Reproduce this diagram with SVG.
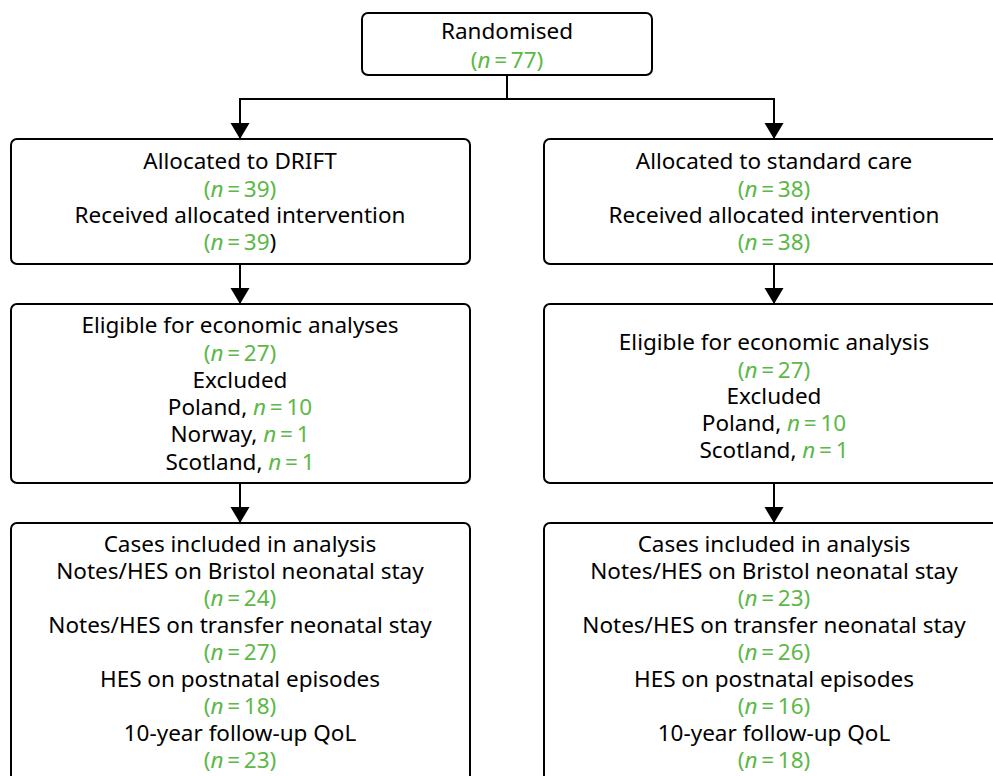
<svg xmlns="http://www.w3.org/2000/svg" width="993" height="776" viewBox="0 0 993 776">
<style>
.box{fill:#fff;stroke:#000;stroke-width:2}
.t{font-family:"Noto Sans","Open Sans","Liberation Sans",sans-serif;font-size:22.5px;fill:#000;text-anchor:middle}
.g{fill:#5cb847}
.i{font-style:italic}
.c{fill:none;stroke:#000;stroke-width:2}
</style>
<defs>
<marker id="ah" markerUnits="userSpaceOnUse" markerWidth="18" markerHeight="20" refX="16" refY="10" orient="auto">
<path d="M0,0.5 L16,10 L0,19.5 Z" fill="#000"/>
</marker>
</defs>
<g id="connectors">
<path class="c" d="M507,75 V99"/>
<path class="c" d="M240,99 H774"/>
<path class="c" d="M240,98 V139" marker-end="url(#ah)"/>
<path class="c" d="M774,98 V139" marker-end="url(#ah)"/>
<path class="c" d="M240,264 V304" marker-end="url(#ah)"/>
<path class="c" d="M774,264 V304" marker-end="url(#ah)"/>
<path class="c" d="M240,483 V523" marker-end="url(#ah)"/>
<path class="c" d="M774,483 V523" marker-end="url(#ah)"/>
</g>
<g id="randomised">
<rect class="box" x="362" y="13" width="290" height="62" rx="6"/>
<text class="t" x="507" y="39">Randomised</text>
<text class="t g" x="507" y="68">(<tspan class="i">n</tspan>&#8201;=&#8201;77)</text>
</g>
<g id="drift">
<rect class="box" x="11" y="139" width="459" height="125" rx="6"/>
<text class="t" x="240" y="169">Allocated to DRIFT</text>
<text class="t g" x="240" y="197">(<tspan class="i">n</tspan>&#8201;=&#8201;39)</text>
<text class="t" x="240" y="223">Received allocated intervention</text>
<text class="t" x="240" y="250"><tspan class="g">(<tspan class="i">n</tspan>&#8201;=&#8201;39</tspan>)</text>
</g>
<g id="standard">
<rect class="box" x="544" y="139" width="470" height="125" rx="6"/>
<text class="t" x="774" y="169">Allocated to standard care</text>
<text class="t g" x="774" y="197">(<tspan class="i">n</tspan>&#8201;=&#8201;38)</text>
<text class="t" x="774" y="223">Received allocated intervention</text>
<text class="t g" x="774" y="250">(<tspan class="i">n</tspan>&#8201;=&#8201;38)</text>
</g>
<g id="eligible-drift">
<rect class="box" x="11" y="304" width="459" height="179" rx="6"/>
<text class="t" x="240" y="333">Eligible for economic analyses</text>
<text class="t g" x="240" y="361">(<tspan class="i">n</tspan>&#8201;=&#8201;27)</text>
<text class="t" x="240" y="388">Excluded</text>
<text class="t" x="240" y="415">Poland, <tspan class="g"><tspan class="i">n</tspan>&#8201;=&#8201;10</tspan></text>
<text class="t" x="240" y="442">Norway, <tspan class="g"><tspan class="i">n</tspan>&#8201;=&#8201;1</tspan></text>
<text class="t" x="240" y="470">Scotland, <tspan class="g"><tspan class="i">n</tspan>&#8201;=&#8201;1</tspan></text>
</g>
<g id="eligible-standard">
<rect class="box" x="544" y="304" width="470" height="179" rx="6"/>
<text class="t" x="774" y="350">Eligible for economic analysis</text>
<text class="t g" x="774" y="378">(<tspan class="i">n</tspan>&#8201;=&#8201;27)</text>
<text class="t" x="774" y="404">Excluded</text>
<text class="t" x="774" y="431">Poland, <tspan class="g"><tspan class="i">n</tspan>&#8201;=&#8201;10</tspan></text>
<text class="t" x="774" y="458">Scotland, <tspan class="g"><tspan class="i">n</tspan>&#8201;=&#8201;1</tspan></text>
</g>
<g id="cases-drift">
<rect class="box" x="11" y="523" width="459" height="270" rx="6"/>
<text class="t" x="240" y="552">Cases included in analysis</text>
<text class="t" x="240" y="579">Notes/HES on Bristol neonatal stay</text>
<text class="t g" x="240" y="606">(<tspan class="i">n</tspan>&#8201;=&#8201;24)</text>
<text class="t" x="240" y="633">Notes/HES on transfer neonatal stay</text>
<text class="t g" x="240" y="660">(<tspan class="i">n</tspan>&#8201;=&#8201;27)</text>
<text class="t" x="240" y="687">HES on postnatal episodes</text>
<text class="t g" x="240" y="714">(<tspan class="i">n</tspan>&#8201;=&#8201;18)</text>
<text class="t" x="240" y="741">10-year follow-up QoL</text>
<text class="t g" x="240" y="768">(<tspan class="i">n</tspan>&#8201;=&#8201;23)</text>
</g>
<g id="cases-standard">
<rect class="box" x="544" y="523" width="470" height="270" rx="6"/>
<text class="t" x="774" y="552">Cases included in analysis</text>
<text class="t" x="774" y="579">Notes/HES on Bristol neonatal stay</text>
<text class="t g" x="774" y="606">(<tspan class="i">n</tspan>&#8201;=&#8201;23)</text>
<text class="t" x="774" y="633">Notes/HES on transfer neonatal stay</text>
<text class="t g" x="774" y="660">(<tspan class="i">n</tspan>&#8201;=&#8201;26)</text>
<text class="t" x="774" y="687">HES on postnatal episodes</text>
<text class="t g" x="774" y="714">(<tspan class="i">n</tspan>&#8201;=&#8201;16)</text>
<text class="t" x="774" y="741">10-year follow-up QoL</text>
<text class="t g" x="774" y="768">(<tspan class="i">n</tspan>&#8201;=&#8201;18)</text>
</g>
</svg>
